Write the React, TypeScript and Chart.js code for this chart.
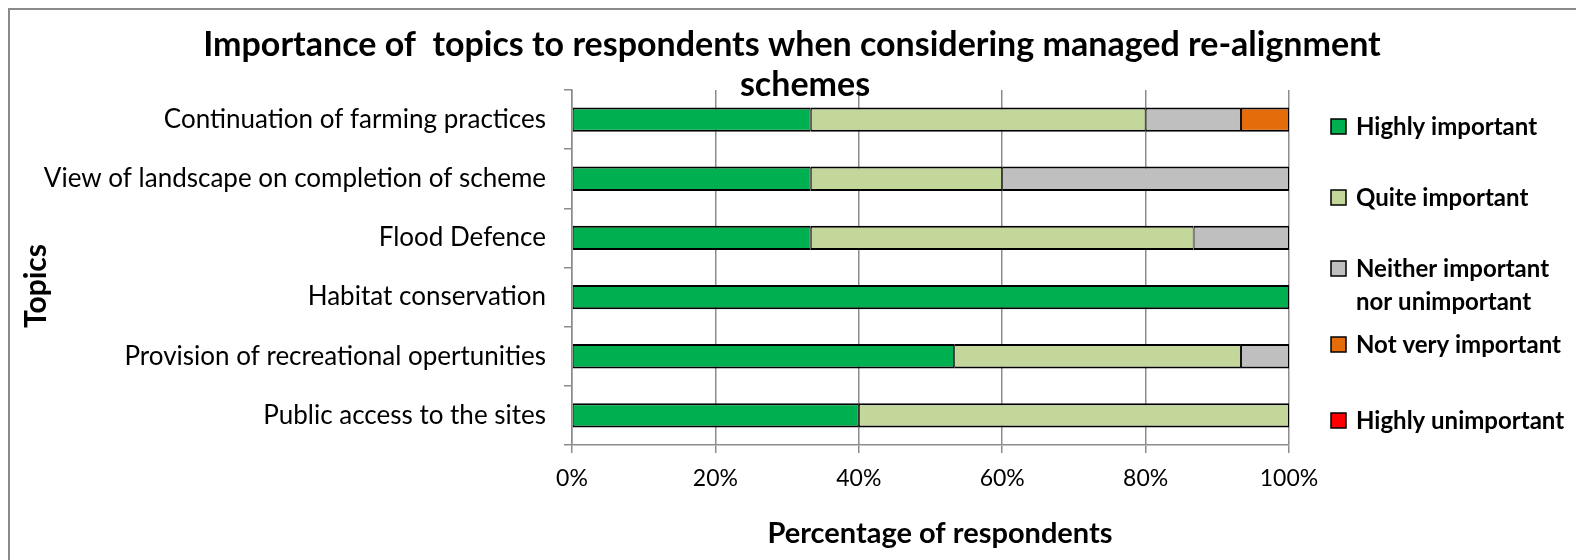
import React, { useEffect, useRef } from 'react';
import { Chart, registerables } from 'chart.js';

Chart.register(...registerables);

const categories = [
  'Continuation of farming practices',
  'View of landscape on completion of scheme',
  'Flood Defence',
  'Habitat conservation',
  'Provision of recreational opertunities',
  'Public access to the sites',
];

const highlyImportant = [33.3, 33.3, 33.3, 100, 53.3, 40];
const quiteImportant = [46.7, 26.7, 53.4, 0, 40, 60];
const neitherImportant = [13.3, 40, 13.3, 0, 6.7, 0];
const notVeryImportant = [6.7, 0, 0, 0, 0, 0];
const highlyUnimportant = [0, 0, 0, 0, 0, 0];

const seriesNames = [
  ['Highly important'],
  ['Quite important'],
  ['Neither important', 'nor unimportant'],
  ['Not very important'],
  ['Highly unimportant'],
];
const seriesColors = ['#00B050', '#C4D79B', '#BFBFBF', '#E46C0A', '#FF0000'];
const seriesValues = [highlyImportant, quiteImportant, neitherImportant, notVeryImportant, highlyUnimportant];

const xTickValues = [0, 20, 40, 60, 80, 100];

const titleLines = ['Importance of  topics to respondents when considering managed re-alignment', 'schemes'];
const yTitle = 'Topics';
const xTitle = 'Percentage of respondents';

const FONT = 'Lato, "Open Sans", sans-serif';

const decorPlugin = {
  id: 'decor',
  afterDraw(chart: any) {
    const ctx = chart.ctx as CanvasRenderingContext2D;
    ctx.save();
    // outer border
    ctx.strokeStyle = '#8A8A8A';
    ctx.lineWidth = 2;
    ctx.beginPath();
    ctx.moveTo(9, 600);
    ctx.lineTo(9, 9);
    ctx.lineTo(1600, 9);
    ctx.stroke();

    ctx.fillStyle = '#000';
    // title
    ctx.font = `bold 34px ${FONT}`;
    ctx.textAlign = 'center';
    ctx.textBaseline = 'middle';
    ctx.fillText(titleLines[0], 792, 45);
    ctx.fillText(titleLines[1], 805, 85);

    // axis titles
    ctx.font = `bold 29px ${FONT}`;
    ctx.fillText(xTitle, 940, 534);
    ctx.save();
    ctx.font = `bold 30px ${FONT}`;
    ctx.translate(36, 286);
    ctx.rotate(-Math.PI / 2);
    ctx.fillText(yTitle, 0, 0);
    ctx.restore();

    // legend
    const rows = [127, 198, 269, 345, 421];
    ctx.font = `bold 24px ${FONT}`;
    ctx.textAlign = 'left';
    seriesNames.forEach((lines, i) => {
      const y = rows[i];
      ctx.fillStyle = seriesColors[i];
      ctx.fillRect(1331, y - 8, 15, 15);
      ctx.strokeStyle = '#000';
      ctx.lineWidth = 1.5;
      ctx.strokeRect(1331, y - 8, 15, 15);
      ctx.fillStyle = '#000';
      lines.forEach((t, j) => ctx.fillText(t, 1356, y + j * 33));
    });
    ctx.restore();
  },
};

export default function App() {
  const ref = useRef<HTMLCanvasElement>(null);
  useEffect(() => {
    if (!ref.current) return;
    Chart.defaults.font.family = FONT;
    const chart = new Chart(ref.current, {
      type: 'bar',
      data: {
        labels: categories,
        datasets: seriesValues.map((vals, i) => ({
          label: seriesNames[i].join(' '),
          data: vals.map((v) => (v === 0 ? null : v)),
          backgroundColor: seriesColors[i],
          borderColor: '#000',
          borderWidth: { top: 2, bottom: 2, left: 1, right: 1 },
          borderSkipped: false,
          barPercentage: 0.41,
          categoryPercentage: 1,
        })),
      },
      options: {
        indexAxis: 'y',
        responsive: false,
        animation: false,
        layout: { padding: { top: 90, right: 287, left: 0, bottom: 0 } },
        plugins: { legend: { display: false }, tooltip: { enabled: false }, title: { display: false } },
        scales: {
          x: {
            stacked: true,
            min: 0,
            max: 100,
            afterBuildTicks: (s: any) => {
              s.ticks = xTickValues.map((v) => ({ value: v }));
            },
            ticks: {
              callback: (v: any) => v + '%',
              color: '#000',
              font: { size: 23 },
              padding: 12,
              maxRotation: 0,
            },
            grid: { color: '#8C8C8C', lineWidth: 1.5, tickLength: 8 },
            border: { display: true, color: '#8C8C8C', width: 1.5 },
            afterFit: (s: any) => {
              s.height = 115;
            },
          },
          y: {
            stacked: true,
            offset: true,
            ticks: { color: '#000', font: { size: 26 }, padding: 18 },
            grid: { offset: true, drawOnChartArea: false, color: '#8C8C8C', lineWidth: 1.5, tickLength: 8 },
            border: { display: true, color: '#8C8C8C', width: 1.5 },
            afterFit: (s: any) => {
              s.width = 572;
            },
          },
        },
      },
      plugins: [decorPlugin],
    });
    return () => chart.destroy();
  }, []);
  return (
    <div style={{ position: 'fixed', left: 0, top: 0, width: 1576, height: 560, background: '#fff' }}>
      <canvas ref={ref} width={1576} height={560} style={{ display: 'block' }} />
    </div>
  );
}
